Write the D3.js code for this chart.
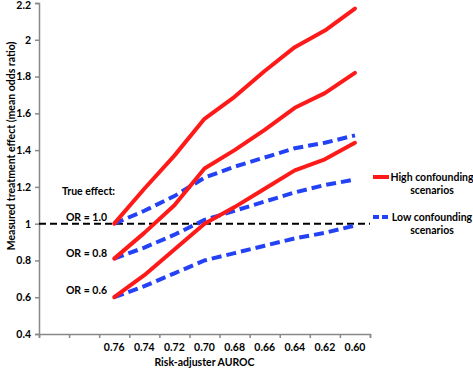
<!DOCTYPE html>
<html>
<head>
<meta charset="utf-8">
<script src="https://cdn.jsdelivr.net/npm/d3@7"></script>
<style>
  body { margin: 0; background: #fff; }
  text { font-family: Lato, "Open Sans", sans-serif; font-weight: bold; fill: #000; }
</style>
</head>
<body>
<div id="chart"></div>
<script>
// x categories (two empty slots before 0.76, as in the original)
var categories = ["", "", "0.76", "0.74", "0.72", "0.70", "0.68", "0.66", "0.64", "0.62", "0.60"];
var yTicks = [0.4, 0.6, 0.8, 1, 1.2, 1.4, 1.6, 1.8, 2, 2.2];

// high confounding scenarios
var high10 = [1.00, 1.19, 1.37, 1.57, 1.69, 1.83, 1.96, 2.05, 2.17];
var high08 = [0.81, 0.95, 1.10, 1.30, 1.40, 1.51, 1.63, 1.71, 1.82];
var high06 = [0.60, 0.72, 0.86, 1.00, 1.09, 1.19, 1.29, 1.35, 1.44];
// low confounding scenarios
var low10 = [1.00, 1.07, 1.15, 1.25, 1.31, 1.36, 1.41, 1.44, 1.48];
var low08 = [0.81, 0.87, 0.94, 1.02, 1.07, 1.12, 1.17, 1.21, 1.24];
var low06 = [0.60, 0.66, 0.73, 0.80, 0.84, 0.88, 0.92, 0.95, 0.99];

var trueEffects = [1.0, 0.8, 0.6];
var trueLabels = ["OR = 1.0", "OR = 0.8", "OR = 0.6"];

var w = 473, h = 369;
var plotLeft = 39, plotRight = 370, plotTop = 3, plotBottom = 334;
var fs = "10.5px";

var svg = d3.select("#chart").append("svg")
    .attr("width", w)
    .attr("height", h);

var x = d3.scaleLinear()
    .domain([0, categories.length])
    .range([plotLeft, plotRight]);

var y = d3.scaleLinear()
    .domain([0.4, 2.2])
    .range([plotBottom, plotTop]);

var axisColor = "#888";

// y axis
var yAxis = d3.axisLeft(y)
    .tickValues(yTicks)
    .tickSize(4)
    .tickPadding(4)
    .tickFormat(function(d){ return String(+d.toFixed(1)); });

var gy = svg.append("g")
    .attr("transform", "translate(" + plotLeft + ",0)")
    .call(yAxis);
gy.select(".domain").attr("stroke", axisColor).attr("stroke-width", 1.5);
gy.selectAll(".tick line").attr("stroke", axisColor).attr("stroke-width", 1.5);
gy.selectAll("text").style("font-size", fs).attr("fill", "#000");
// keep the top label inside the picture
gy.selectAll(".tick text").filter(function(d){ return d === 2.2; }).attr("dy", "0.55em");

// x axis: tick marks between categories, labels at centres
var xAxis = d3.axisBottom(x)
    .tickValues(d3.range(categories.length + 1))
    .tickSize(4)
    .tickFormat("");

var gx = svg.append("g")
    .attr("transform", "translate(0," + plotBottom + ")")
    .call(xAxis);
gx.select(".domain").attr("stroke", axisColor).attr("stroke-width", 1.5);
gx.selectAll(".tick line").attr("stroke", axisColor).attr("stroke-width", 1.5);

svg.append("g").selectAll("text")
    .data(categories)
    .enter()
    .append("text")
    .attr("x", function(d, i){ return x(i + 0.5); })
    .attr("y", plotBottom + 17)
    .attr("text-anchor", "middle")
    .style("font-size", fs)
    .text(function(d){ return d; });

// axis titles
svg.append("text")
    .attr("x", (plotLeft + plotRight) / 2)
    .attr("y", 366)
    .attr("text-anchor", "middle")
    .style("font-size", fs)
    .text("Risk-adjuster AUROC");

svg.append("text")
    .attr("transform", "translate(15," + 146 + ") rotate(-90)")
    .attr("text-anchor", "middle")
    .style("font-size", fs)
    .text("Measured treatment effect (mean odds ratio)");

// true effect reference line
svg.append("line")
    .attr("x1", x(0))
    .attr("x2", x(categories.length))
    .attr("y1", y(1))
    .attr("y2", y(1))
    .attr("stroke", "#000")
    .attr("stroke-width", 2)
    .attr("stroke-dasharray", "7,4");

// series lines
var line = d3.line()
    .x(function(d, i){ return x(i + 2.5); })
    .y(function(d){ return y(d); });

var red = "#ff1a1a", blue = "#2442f5";

[low06, low08, low10].forEach(function(s){
    svg.append("path")
        .datum(s)
        .attr("d", line)
        .attr("fill", "none")
        .attr("stroke", blue)
        .attr("stroke-width", 4)
        .attr("stroke-dasharray", "10,5");
});

[high06, high08, high10].forEach(function(s){
    svg.append("path")
        .datum(s)
        .attr("d", line)
        .attr("fill", "none")
        .attr("stroke", red)
        .attr("stroke-width", 4)
        .attr("stroke-linecap", "round")
        .attr("stroke-linejoin", "round");
});

// annotations
svg.append("text")
    .attr("x", 62)
    .attr("y", y(1) - 29)
    .style("font-size", fs)
    .text("True effect:");

svg.append("g").selectAll("text")
    .data(trueEffects)
    .enter()
    .append("text")
    .attr("x", 107)
    .attr("y", function(d){ return y(d) - 3; })
    .attr("text-anchor", "end")
    .style("font-size", fs)
    .text(function(d, i){ return trueLabels[i]; });

// legend
var legend = [
    {label: ["High confounding", "scenarios"], color: red, dash: null, y: 177},
    {label: ["Low confounding", "scenarios"], color: blue, dash: "6,3", y: 217}
];

legend.forEach(function(l){
    svg.append("line")
        .attr("x1", 373)
        .attr("x2", 389)
        .attr("y1", l.y)
        .attr("y2", l.y)
        .attr("stroke", l.color)
        .attr("stroke-width", 4)
        .attr("stroke-dasharray", l.dash);
    svg.append("text")
        .attr("x", 432)
        .attr("y", l.y + 4)
        .attr("text-anchor", "middle")
        .style("font-size", fs)
        .text(l.label[0]);
    svg.append("text")
        .attr("x", 432)
        .attr("y", l.y + 17)
        .attr("text-anchor", "middle")
        .style("font-size", fs)
        .text(l.label[1]);
});
</script>
</body>
</html>
